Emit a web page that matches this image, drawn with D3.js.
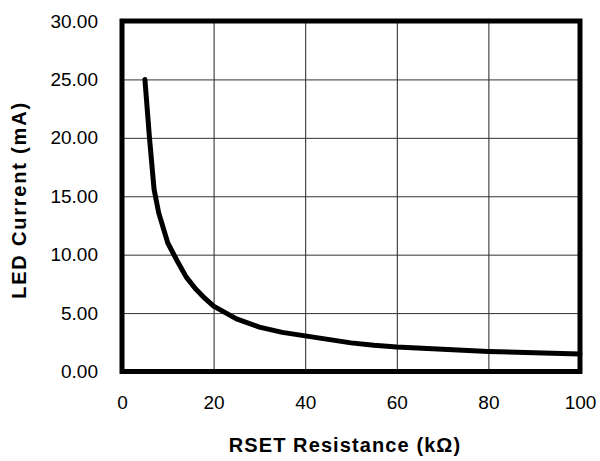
<!DOCTYPE html>
<html>
<head>
<meta charset="utf-8">
<script src="https://cdn.jsdelivr.net/npm/d3@7"></script>
<style>
  body { margin: 0; background: #fff; }
  text { font-family: "Liberation Sans", Arial, sans-serif; fill: #000; }
</style>
</head>
<body>
<div id="chart"></div>
<script>
// RSET resistance (kOhm) vs LED current (mA)
const rset = [5, 6, 7, 8, 10, 12, 14, 16, 18, 20, 25, 30, 35, 40, 45, 50, 55, 60, 70, 80, 90, 100];
const ledCurrent = [25.0, 20.0, 15.6, 13.6, 11.0, 9.5, 8.1, 7.1, 6.3, 5.6, 4.5, 3.8, 3.35, 3.05, 2.75, 2.45, 2.25, 2.1, 1.9, 1.72, 1.6, 1.5];
const xTicks = [0, 20, 40, 60, 80, 100];
const yTicks = [0, 5, 10, 15, 20, 25, 30];

const margin = {top: 21, right: 20, bottom: 89.5, left: 122};
const width = 600 - margin.left - margin.right;
const height = 461 - margin.top - margin.bottom;

const svg = d3.select("#chart").append("svg")
    .attr("width", 600)
    .attr("height", 461);

const g = svg.append("g")
    .attr("transform", "translate(" + margin.left + "," + margin.top + ")");

const x = d3.scaleLinear().domain([0, 100]).range([0, width]);
const y = d3.scaleLinear().domain([0, 30]).range([height, 0]);

// gridlines
g.append("g")
    .attr("transform", "translate(0," + height + ")")
    .call(d3.axisBottom(x).tickValues(xTicks).tickSize(-height).tickFormat(""))
    .call(a => a.select(".domain").remove())
    .selectAll("line").attr("stroke", "#222").attr("stroke-width", 1);

g.append("g")
    .call(d3.axisLeft(y).tickValues(yTicks).tickSize(-width).tickFormat(""))
    .call(a => a.select(".domain").remove())
    .selectAll("line").attr("stroke", "#333").attr("stroke-width", 1);

// tick labels
g.append("g")
    .attr("transform", "translate(0," + height + ")")
    .call(d3.axisBottom(x).tickValues(xTicks).tickSize(0).tickPadding(24).tickFormat(d3.format("d")))
    .call(a => a.select(".domain").remove())
    .selectAll("text")
    .style("font-size", "19px")
    .style("font-family", "Liberation Sans, Arial, sans-serif")
    .attr("fill", "#000");

g.append("g")
    .call(d3.axisLeft(y).tickValues(yTicks).tickSize(0).tickPadding(24).tickFormat(d3.format(".2f")))
    .call(a => a.select(".domain").remove())
    .selectAll("text")
    .style("font-size", "19px")
    .style("font-family", "Liberation Sans, Arial, sans-serif")
    .attr("fill", "#000");

// data curve
g.append("path")
    .datum(rset.map((d, i) => [d, ledCurrent[i]]))
    .attr("fill", "none")
    .attr("stroke", "#000")
    .attr("stroke-width", 5)
    .attr("stroke-linejoin", "round")
    .attr("stroke-linecap", "round")
    .attr("d", d3.line().x(d => x(d[0])).y(d => y(d[1])));

// plot frame
g.append("rect")
    .attr("width", width)
    .attr("height", height)
    .attr("fill", "none")
    .attr("stroke", "#000")
    .attr("stroke-width", 5);

// axis titles
svg.append("text")
    .attr("x", 345)
    .attr("y", 452)
    .attr("text-anchor", "middle")
    .style("font-size", "20px")
    .style("font-weight", "bold")
    .style("letter-spacing", "1.1px")
    .text("RSET Resistance (kΩ)");

svg.append("text")
    .attr("transform", "translate(26,200) rotate(-90)")
    .attr("text-anchor", "middle")
    .style("font-size", "20px")
    .style("font-weight", "bold")
    .style("letter-spacing", "1.8px")
    .text("LED Current (mA)");
</script>
</body>
</html>
